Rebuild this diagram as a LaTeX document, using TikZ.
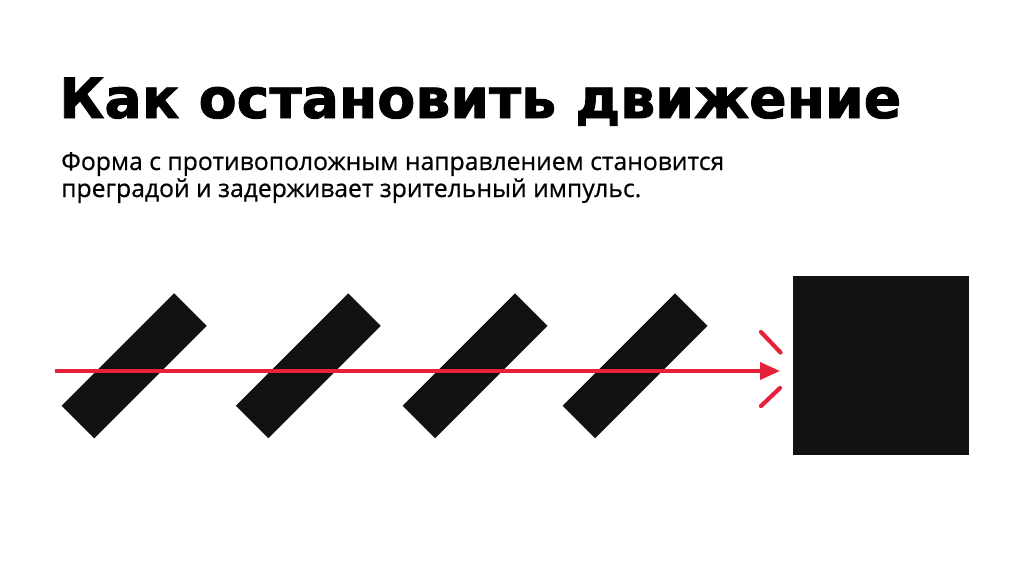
\documentclass[tikz,border=0pt]{standalone}
\usepackage{fontspec}
\usetikzlibrary{arrows.meta}
\newfontfamily\titlefont{DejaVu Sans}[BoldFeatures={FakeBold=1.6}]
\newfontfamily\subfont{Open Sans}[FakeBold=0.6]
\definecolor{inkblack}{HTML}{111111}
\definecolor{arrowred}{HTML}{E8213A}
\newsavebox\titlebox
\newsavebox\lineAbox
\newsavebox\lineBbox
\tikzset{
  bar/.style={fill=inkblack, draw=none, rotate=45, minimum width=159pt, minimum height=46pt, inner sep=0pt},
  block/.style={fill=inkblack, draw=none, minimum width=176pt, minimum height=179pt, inner sep=0pt},
  ray/.style={draw=arrowred, line width=3.6pt, -{Triangle[length=20pt,width=17pt]}},
  tick/.style={draw=arrowred, line width=4.2pt, line cap=round},
  txt/.style={inner sep=0pt, anchor=base west, text=inkblack}
}
\begin{document}
\sbox\titlebox{\titlefont\bfseries Как остановить движение}%
\sbox\lineAbox{\subfont Форма с противоположным направлением становится}%
\sbox\lineBbox{\subfont преградой и задерживает зрительный импульс.}%
\begin{tikzpicture}[x=1pt,y=-1pt]
\useasboundingbox[fill=white] (0,0) rectangle (1024,576);
\pgfmathsetmacro\tfac{842/\the\wd\titlebox}
\pgfmathsetmacro\sfac{663/\the\wd\lineAbox}
\node[txt] (title) at (59,118) {\scalebox{\tfac}{\usebox\titlebox}};
\node[txt] (sub1) at (61,170) {\scalebox{\sfac}{\usebox\lineAbox}};
\node[txt] (sub2) at (61,197) {\scalebox{\sfac}{\usebox\lineBbox}};
\node[bar] (r1) at (134.2,365.8) {};
\node[bar] (r2) at (308.3,365.8) {};
\node[bar] (r3) at (475,365.8) {};
\node[bar] (r4) at (635,365.8) {};
\node[block] (sq) at (881,365.5) {};
\coordinate (start) at (55,371);
\coordinate (tip) at (780,371);
\draw[ray] (start) -- (tip);
\coordinate (t1a) at (761,332);
\coordinate (t1b) at (780.5,352.5);
\coordinate (t2a) at (761,406);
\coordinate (t2b) at (780,388);
\draw[tick] (t1a) -- (t1b);
\draw[tick] (t2a) -- (t2b);
\end{tikzpicture}
\end{document}
